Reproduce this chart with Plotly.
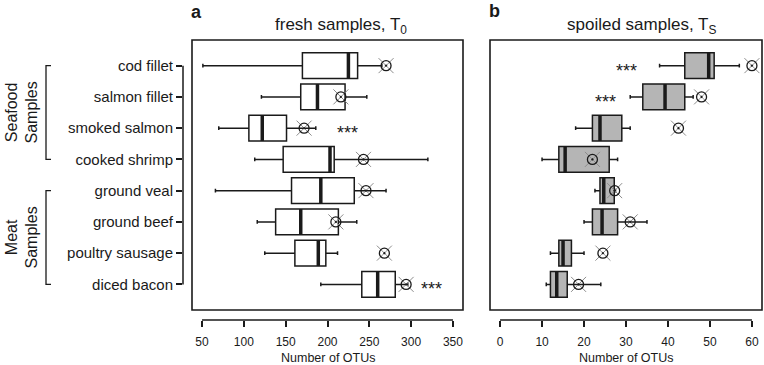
import plotly.graph_objects as go

# ---------------- data ----------------
categories = ["cod fillet", "salmon fillet", "smoked salmon", "cooked shrimp",
              "ground veal", "ground beef", "poultry sausage", "diced bacon"]

# fresh samples, T0
fresh_low = [51, 121, 70, 113, 66, 116, 125, 192]
fresh_q1 = [170, 168, 106, 147, 157, 138, 161, 241]
fresh_med = [225, 188, 122, 203, 192, 168, 189, 260]
fresh_q3 = [236, 221, 151, 208, 232, 213, 198, 281]
fresh_high = [265, 247, 186, 320, 270, 235, 212, 296]
fresh_point = [270, 216, 172, 243, 246, 210, 268, 294]

# spoiled samples, TS
spoiled_low = [38, 31, 18, 10, 22.6, 20, 12, 11]
spoiled_q1 = [44, 34, 22, 14, 23.8, 22, 14, 12]
spoiled_med = [49.7, 39.3, 23.8, 15.5, 24.7, 24.3, 15, 13.5]
spoiled_q3 = [51, 44, 29, 26, 27.2, 28, 17, 16]
spoiled_high = [57, 46, 31, 28, 27.5, 35, 20, 24]
spoiled_point = [60, 48, 42.5, 22, 27.3, 31, 24.5, 18.7]

# significance marks
sig_fresh_cat = ["smoked salmon", "diced bacon"]
sig_fresh_x = [224, 324]
sig_spoiled_cat = ["cod fillet", "salmon fillet"]
sig_spoiled_x = [30, 25]

ticks_fresh = [50, 100, 150, 200, 250, 300, 350]
ticks_spoiled = [0, 10, 20, 30, 40, 50, 60]

groups = [("Seafood<br>Samples", "cod fillet", "cooked shrimp"),
          ("Meat<br>Samples", "ground veal", "diced bacon")]

# ---------------- layout helpers ----------------
W, H = 764, 365
FONT = "Liberation Sans, Arial, sans-serif"
INK = "#1a1a1a"
n = len(categories)
pos = {c: n - i for i, c in enumerate(categories)}
ypos = [pos[c] for c in categories]
BOXW = 0.82

MT, MB = 35, 45
plot_h = H - MT - MB
YR = [-0.14, 8.98]


def py(px):  # pixel y -> paper y
    return (H - MB - px) / plot_h


def px_(x):
    return x / W


# panel a: frame 192..463 px == 38..362 ; plot area 183..466
a_left, a_right = 183, 466
a_scale = (463 - 192) / (362 - 38)
a_range = [38 - (192 - a_left) / a_scale, 362 + (a_right - 463) / a_scale]
# panel b: frame 490..762 px == -2.4..62.4 ; plot area 487..764
b_left, b_right = 487, 764
b_scale = (762 - 490) / 64.8
b_range = [-2.4 - (490 - b_left) / b_scale, 62.4 + (b_right - 762) / b_scale]

fig = go.Figure()


def add_panel(xa, ya, low, q1, med, q3, high, pts, fill, sig_cat, sig_x):
    fig.add_trace(go.Box(
        y=ypos, q1=q1, median=med, q3=q3, lowerfence=low, upperfence=high,
        orientation="h", width=BOXW, whiskerwidth=0.15,
        fillcolor=fill, line=dict(color=INK, width=1.5),
        boxpoints=False, xaxis=xa, yaxis=ya, showlegend=False,
        hoverinfo="skip"))
    mx, my = [], []
    for m, p in zip(med, ypos):
        mx += [m, m, None]
        my += [p - BOXW / 2, p + BOXW / 2, None]
    fig.add_trace(go.Scatter(x=mx, y=my, mode="lines",
                             line=dict(color=INK, width=3.5),
                             xaxis=xa, yaxis=ya, showlegend=False,
                             hoverinfo="skip"))
    fig.add_trace(go.Scatter(x=pts, y=ypos, mode="markers",
                             marker=dict(symbol="x-thin-open", size=15,
                                         color="#8c8c8c",
                                         line=dict(color="#8c8c8c", width=1)),
                             xaxis=xa, yaxis=ya, showlegend=False,
                             hoverinfo="skip"))
    fig.add_trace(go.Scatter(x=pts, y=ypos, mode="markers",
                             marker=dict(symbol="circle-open-dot", size=10,
                                         color=INK,
                                         line=dict(color=INK, width=1.3)),
                             xaxis=xa, yaxis=ya, showlegend=False,
                             hoverinfo="skip"))
    for c, x in zip(sig_cat, sig_x):
        fig.add_annotation(x=x, y=pos[c], xref=xa, yref=ya, text="***",
                           showarrow=False, yshift=-5,
                           xanchor="center", yanchor="middle",
                           font=dict(family=FONT, size=18, color=INK))


add_panel("x", "y", fresh_low, fresh_q1, fresh_med, fresh_q3, fresh_high,
          fresh_point, "white", sig_fresh_cat, sig_fresh_x)
add_panel("x2", "y2", spoiled_low, spoiled_q1, spoiled_med, spoiled_q3,
          spoiled_high, spoiled_point, "#b5b5b5", sig_spoiled_cat,
          sig_spoiled_x)

tickfont = dict(family=FONT, size=12, color=INK)
fig.update_layout(
    width=W, height=H, margin=dict(l=0, r=0, t=MT, b=MB),
    paper_bgcolor="white", plot_bgcolor="white",
    xaxis=dict(domain=[px_(a_left), px_(a_right)], range=a_range,
               showgrid=False, zeroline=False, showline=False,
               tickvals=ticks_fresh, ticks="outside", ticklen=6,
               tickwidth=1.5, tickcolor=INK, tickfont=tickfont,
               ticklabelstandoff=5),
    xaxis2=dict(domain=[px_(b_left), px_(b_right)], range=b_range,
                showgrid=False, zeroline=False, showline=False,
                tickvals=ticks_spoiled, ticks="outside", ticklen=6,
                tickwidth=1.5, tickcolor=INK, tickfont=tickfont,
                ticklabelstandoff=5, anchor="y2"),
    yaxis=dict(range=YR, showgrid=False, zeroline=False, showline=False,
               tickvals=ypos, ticktext=categories, ticks="outside",
               ticklen=6, tickwidth=1.5, tickcolor=INK,
               tickfont=dict(family=FONT, size=15, color=INK)),
    yaxis2=dict(range=YR, showgrid=False, zeroline=False, showline=False,
                showticklabels=False, anchor="x2"),
)

# frames
for xa, ya, x0, x1 in [("x", "y", 38, 362), ("x2", "y2", -2.4, 62.4)]:
    fig.add_shape(type="rect", xref=xa, yref=ya, x0=x0, x1=x1,
                  y0=0.18, y1=8.82, line=dict(color=INK, width=1.6))
# bottom axis lines
for xa, t in [("x", ticks_fresh), ("x2", ticks_spoiled)]:
    fig.add_shape(type="line", xref=xa, yref="paper", x0=t[0], x1=t[-1],
                  y0=0, y1=0, line=dict(color=INK, width=1.5))
# left axis line
fig.add_shape(type="line", xref="x domain", yref="y", x0=0, x1=0,
              y0=min(ypos), y1=max(ypos), line=dict(color=INK, width=1.5))

# group brackets and labels
for label_text, top, bot in groups:
    yt, yb = pos[top], pos[bot]
    fig.add_shape(type="path", xref="paper", yref="y",
                  path=f"M {px_(51)},{yt} L {px_(46)},{yt} L {px_(46)},{yb} L {px_(51)},{yb}",
                  line=dict(color=INK, width=1.3))
    fig.add_annotation(x=px_(21), y=(yt + yb) / 2, xref="paper", yref="y",
                       text=label_text, textangle=-90, showarrow=False,
                       xanchor="center", yanchor="middle",
                       font=dict(family=FONT, size=16, color=INK))


def label(x, y, text, size, bold=False):
    fig.add_annotation(x=px_(x), y=py(y), xref="paper", yref="paper",
                       text=f"<b>{text}</b>" if bold else text,
                       showarrow=False, xanchor="center", yanchor="middle",
                       font=dict(family=FONT, size=size, color=INK))


label(196, 12, "a", 18, True)
label(494, 11, "b", 18, True)
label(341, 26, "fresh samples, T<sub>0</sub>", 17)
label(641, 26, "spoiled samples, T<sub>S</sub>", 17)
label(328, 358, "Number of OTUs", 12.5)
label(626, 358, "Number of OTUs", 12.5)

fig.write_html("out.html",
               config={"displayModeBar": False},
               post_script="document.body.style.margin='0';"
                           "document.body.style.overflow='hidden';")
